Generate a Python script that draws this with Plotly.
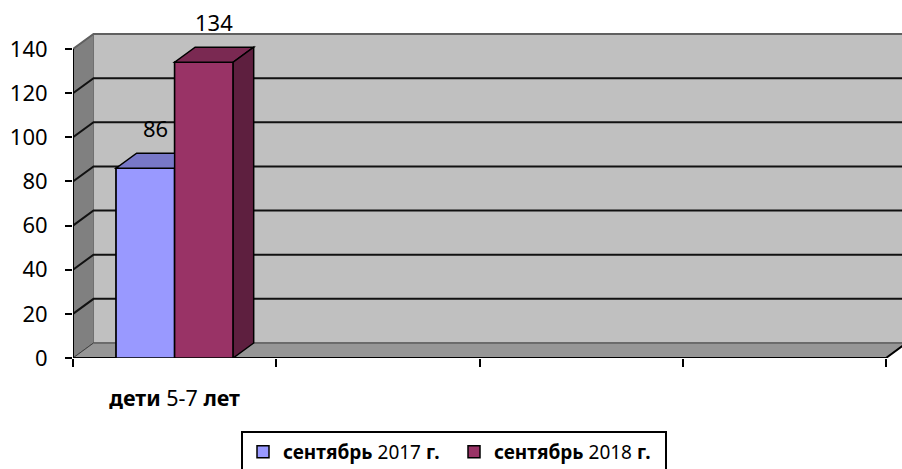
import plotly.graph_objects as go

# ---- data ----
categories = ["<b>дети</b> 5-7 <b>лет</b>", "", "", ""]
series_names = ["<b>сентябрь</b> 2017 <b>г.</b>", "<b>сентябрь</b> 2018 <b>г.</b>"]
values_2017 = [86, None, None, None]
values_2018 = [134, None, None, None]
y_ticks = [0, 20, 40, 60, 80, 100, 120, 140]

# ---- styling / geometry ----
FONT = "Noto Sans"
front_colors = ["#9999FF", "#993366"]
top_colors = ["#7878C8", "#7A2952"]
side_colors = ["#4D4D99", "#5E1F3F"]
bar_w = 0.288
DX = 0.101   # depth offset in x-data units
DY = 6.8     # depth offset in y-data units
YMAX = 140
XMAX = 4
series = [values_2017, values_2018]

shapes_below = []
shapes_above = []
annotations = []

def path(pts):
    return "M " + " L ".join(f"{x},{y}" for x, y in pts) + " Z"

# left wall
shapes_below.append(dict(type="path", layer="below", xref="x", yref="y",
    path=path([(0, 0), (DX, DY), (DX, YMAX + DY), (0, YMAX)]),
    fillcolor="#808080", line=dict(color="#505050", width=1)))
# back wall
shapes_below.append(dict(type="path", layer="below", xref="x", yref="y",
    path=path([(DX, DY), (XMAX + DX, DY), (XMAX + DX, YMAX + DY), (DX, YMAX + DY)]),
    fillcolor="#C0C0C0", line=dict(color="#707070", width=1)))
# floor
shapes_below.append(dict(type="path", layer="below", xref="x", yref="y",
    path=path([(0, 0), (XMAX, 0), (XMAX + DX, DY), (DX, DY)]),
    fillcolor="#969696", line=dict(color="#404040", width=1)))
# gridlines
for v in y_ticks[1:]:
    col = "#606060" if v == YMAX else "#111111"
    shapes_below.append(dict(type="path", layer="below", xref="x", yref="y",
        path=f"M 0,{v} L {DX},{v + DY} L {XMAX + DX},{v + DY}",
        line=dict(color=col, width=2)))
# front floor edge (x-axis line) and its right diagonal
shapes_below.append(dict(type="path", layer="below", xref="x", yref="y",
    path=f"M 0,0 L {XMAX},0 L {XMAX + DX},{DY}",
    line=dict(color="black", width=2)))
# y-axis line
shapes_below.append(dict(type="line", layer="below", xref="x", yref="y",
    x0=0, y0=0, x1=0, y1=YMAX, line=dict(color="black", width=2)))

fig = go.Figure()
xs = [i + 0.5 for i in range(len(categories))]
for s, (vals, name) in enumerate(zip(series, series_names)):
    fig.add_trace(go.Bar(
        x=xs, y=vals, name=name, width=bar_w,
        offset=(s - 1) * bar_w,
        marker=dict(color=front_colors[s], line=dict(color="black", width=1.5)),
        hoverinfo="skip",
    ))

# 3D faces, painter order left to right
for ci, c in enumerate(xs):
    for s, vals in enumerate(series):
        v = vals[ci]
        if v is None:
            continue
        x0 = c + (s - 1) * bar_w
        x1 = x0 + bar_w
        ln = dict(color="black", width=1.5)
        shapes_above.append(dict(type="path", layer="above", xref="x", yref="y",
            path=path([(x0, 0), (x1, 0), (x1, v), (x0, v)]),
            fillcolor=front_colors[s], line=ln))
        shapes_above.append(dict(type="path", layer="above", xref="x", yref="y",
            path=path([(x0, v), (x1, v), (x1 + DX, v + DY), (x0 + DX, v + DY)]),
            fillcolor=top_colors[s], line=ln))
        shapes_above.append(dict(type="path", layer="above", xref="x", yref="y",
            path=path([(x1, 0), (x1 + DX, DY), (x1 + DX, v + DY), (x1, v)]),
            fillcolor=side_colors[s], line=ln))
        annotations.append(dict(x=(x0 + x1) / 2 + DX / 2, y=v + DY, xref="x", yref="y",
            text=str(v), showarrow=False, yanchor="bottom", yshift=8,
            font=dict(family=FONT, size=22, color="black")))

plot_left, plot_bottom_px = 73, 358
px_per_x = (886 - 73) / XMAX
px_per_y = (358 - 49) / YMAX
W, H = 902, 469

fig.update_layout(
    width=W, height=H,
    margin=dict(l=plot_left, r=0, t=0, b=H - plot_bottom_px, pad=0, autoexpand=False),
    paper_bgcolor="white", plot_bgcolor="white",
    barmode="overlay",
    showlegend=True,
    font=dict(family=FONT, color="black"),
    xaxis=dict(range=[0, (W - plot_left) / px_per_x], tickmode="array",
               tickvals=xs, ticktext=categories, ticks="",
               ticklabelstandoff=25, automargin=False,
               tickfont=dict(family=FONT, size=21.5, color="black"),
               showgrid=False, zeroline=False, showline=False, fixedrange=True,
               minor=dict(tickmode="array", tickvals=[0, 1, 2, 3, 4], ticks="outside",
                          ticklen=8, tickwidth=2, tickcolor="black", showgrid=False)),
    yaxis=dict(range=[0, plot_bottom_px / px_per_y], tickmode="array",
               tickvals=y_ticks, ticks="outside", ticklen=7, tickwidth=2,
               tickcolor="black", ticklabelstandoff=13, automargin=False,
               tickfont=dict(family=FONT, size=22, color="black"),
               showgrid=False, zeroline=False, showline=False, fixedrange=True),
    legend=dict(orientation="h", x=(454 - plot_left) / (W - plot_left), xanchor="center",
                y=(plot_bottom_px - 431) / plot_bottom_px, yanchor="top",
                bordercolor="black", borderwidth=2, bgcolor="white",
                font=dict(family=FONT, size=19, color="black"),
                entrywidth=166, entrywidthmode="pixels",
                traceorder="normal"),
    shapes=shapes_below + shapes_above,
    annotations=annotations,
)

fig.write_html("out.html", config={"displayModeBar": False, "staticPlot": True},
               post_script="document.body.style.margin='0';document.body.style.overflow='hidden';")
